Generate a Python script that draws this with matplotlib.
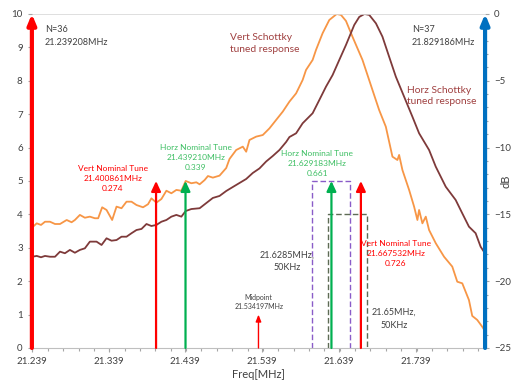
import matplotlib.pyplot as plt
from matplotlib.ticker import MultipleLocator

plt.rcParams['font.family'] = ['Lato', 'DejaVu Sans']

# ==========================
# Schottky responses (dB)
# ==========================
horz_freq = [21.2398, 21.2455, 21.2511, 21.2563, 21.2628, 21.2693, 21.2758, 21.2845,
             21.2909, 21.2952, 21.3017, 21.3082, 21.3147, 21.3212, 21.3255, 21.3307,
             21.3364, 21.3437, 21.3494, 21.3559, 21.3624, 21.3689, 21.3754, 21.3839,
             21.3904, 21.3948, 21.4013, 21.4078, 21.4143, 21.4208, 21.4273, 21.4338,
             21.4394, 21.4468, 21.4533, 21.4576, 21.4641, 21.4684, 21.4748, 21.4835,
             21.4922, 21.4965, 21.5052, 21.5138, 21.5182, 21.5225, 21.5312, 21.5398,
             21.5485, 21.5572, 21.5658, 21.5745, 21.5832, 21.5917, 21.5961, 21.6047,
             21.6091, 21.6177, 21.6264, 21.6361, 21.6416, 21.6481, 21.6567, 21.6696,
             21.6826, 21.6913, 21.7000, 21.7086, 21.7151, 21.7173, 21.7216, 21.7303,
             21.7368, 21.7411, 21.7433, 21.7476, 21.7520, 21.7563, 21.7650, 21.7758,
             21.7865, 21.7930, 21.7995, 21.8082, 21.8125, 21.8190, 21.8255, 21.8290]
horz_db = [-15.97, -15.67, -15.79, -15.55, -15.55, -15.72, -15.72, -15.42,
           -15.59, -15.42, -15.04, -15.25, -15.17, -15.29, -15.29, -14.47,
           -14.67, -15.42, -14.42, -14.54, -14.05, -14.05, -14.30, -14.47,
           -14.24, -13.80, -14.12, -13.85, -13.23, -13.42, -13.17, -13.23,
           -12.50, -12.67, -12.60, -12.75, -12.43, -12.13, -12.25, -12.10,
           -11.53, -10.85, -10.18, -9.93, -10.31, -9.43, -9.18, -9.06,
           -8.56, -7.93, -7.31, -6.56, -5.94, -4.94, -4.19, -3.44,
           -2.69, -1.44, -0.45, 0.0, -0.07, -0.52, -1.72, -3.44,
           -5.69, -7.19, -8.44, -10.68, -10.93, -10.55, -11.68, -13.17,
           -14.42, -15.42, -14.67, -15.67, -15.17, -16.17, -17.16, -18.17,
           -18.91, -20.04, -20.16, -21.41, -22.60, -22.90, -23.41, -23.73]

vert_freq = [21.2398, 21.2455, 21.2511, 21.2563, 21.2628, 21.2693, 21.2758, 21.2822,
             21.2887, 21.2952, 21.3017, 21.3082, 21.3147, 21.3234, 21.3299, 21.3364,
             21.3429, 21.3494, 21.3559, 21.3624, 21.3689, 21.3754, 21.3819, 21.3884,
             21.3948, 21.4013, 21.4078, 21.4143, 21.4208, 21.4273, 21.4338, 21.4394,
             21.4468, 21.4576, 21.4663, 21.4748, 21.4835, 21.4922, 21.5008, 21.5095,
             21.5182, 21.5268, 21.5355, 21.5442, 21.5528, 21.5615, 21.5702, 21.5745,
             21.5832, 21.5917, 21.6047, 21.6134, 21.6221, 21.6307, 21.6394, 21.6481,
             21.6589, 21.6654, 21.6722, 21.6784, 21.6871, 21.6956, 21.7043, 21.7130,
             21.7238, 21.7346, 21.7433, 21.7563, 21.7650, 21.7780, 21.7909, 21.7995,
             21.8082, 21.8169, 21.8234, 21.8290]
vert_db = [-18.17, -18.11, -18.21, -18.11, -18.17, -18.17, -17.79, -17.91,
           -17.66, -17.87, -17.66, -17.54, -17.04, -17.04, -17.29, -16.79,
           -16.97, -16.92, -16.67, -16.67, -16.41, -16.17, -16.09, -15.72,
           -15.87, -15.79, -15.55, -15.42, -15.17, -15.04, -15.17, -14.75,
           -14.60, -14.54, -14.15, -13.77, -13.62, -13.25, -12.95, -12.65,
           -12.35, -11.90, -11.56, -11.04, -10.63, -10.18, -9.58, -9.21,
           -8.93, -8.18, -7.43, -6.44, -5.44, -4.57, -3.44, -2.32,
           -0.82, -0.22, 0.0, -0.07, -0.70, -1.70, -3.20, -4.69,
           -6.19, -7.69, -8.93, -10.18, -11.43, -12.93, -13.92, -14.92,
           -15.92, -16.41, -17.42, -17.91]

# ==========================
# Marker arrows (left axis)
# ==========================
n36_freq, n37_freq = 21.239208, 21.829186
vert_tune_freq = [21.400861, 21.667532]
vert_tune_val = [0.274, 0.726]
horz_tune_freq = [21.439210, 21.629183]
horz_tune_val = [0.339, 0.661]
mid_freq = 21.534197
arrow_height = 5
box_centers = [21.6285, 21.65]
box_width = 0.05
box_heights = [5, 4]

xticks = [21.239, 21.339, 21.439, 21.539, 21.639, 21.739]

RED = '#FF0000'
GREEN = '#00B050'
GREEN_TXT = '#3DBF63'
BLUE = '#0070C0'
ORANGE = '#F79646'
MAROON = '#7E3A3A'
LABEL = '#A04040'
DARK = '#404040'

fig = plt.figure(figsize=(5.15, 3.84), dpi=100)
ax = fig.add_axes([0.0616, 0.0938, 0.880, 0.8698])
ax2 = ax.twinx()

# curves on the dB axis
ax2.plot(horz_freq, horz_db, color=ORANGE, lw=1.3)
ax2.plot(vert_freq, vert_db, color=MAROON, lw=1.3)
ax2.set_ylim(-25, 0)
ax2.yaxis.set_major_locator(MultipleLocator(5))
ax2.yaxis.set_minor_locator(MultipleLocator(1))
ax2.set_ylabel('dB', fontsize=8, color=DARK)
ax2.yaxis.set_label_coords(1.035, 0.5)

# arrows on top of the curves
ax.set_zorder(ax2.get_zorder() + 1)
ax.patch.set_visible(False)


def arrow(x, h, color, lw, hl, hw, ms=10):
    ax.annotate('', xy=(x, h), xytext=(x, 0),
                arrowprops=dict(arrowstyle='-|>,head_length=%g,head_width=%g' % (hl, hw),
                                color=color, lw=lw, shrinkA=0, shrinkB=0,
                                mutation_scale=ms))


arrow(n36_freq, 10, RED, 3, 0.6, 0.25)
arrow(n37_freq, 10, BLUE, 3, 0.6, 0.25)
for f in vert_tune_freq:
    arrow(f, arrow_height, RED, 1.6, 0.6, 0.28)
for f in horz_tune_freq:
    arrow(f, arrow_height, GREEN, 1.6, 0.6, 0.28)
arrow(mid_freq, 1, RED, 1.0, 0.5, 0.2, ms=8)

# 50 kHz boxes
for c, h, col in zip(box_centers, box_heights, ['#8A5CC8', '#5E6B55']):
    x0, x1 = c - box_width / 2, c + box_width / 2
    ax.plot([x0, x0, x1, x1], [0, h, h, 0], color=col, lw=1, ls=(0, (4, 2)))

ax.set_xlim(21.239, 21.829)
ax.set_ylim(0, 10)
ax.set_xticks(xticks)
ax.xaxis.set_minor_locator(MultipleLocator(0.02))
ax.yaxis.set_major_locator(MultipleLocator(1))
ax.set_xlabel('Freq[MHz]', fontsize=8, color=DARK, labelpad=2)

for a in (ax, ax2):
    for s in a.spines.values():
        s.set_visible(False)
    a.tick_params(colors='#a6a6a6', labelcolor=DARK, labelsize=7, length=3, width=0.8)
    a.tick_params(which='minor', colors='#a6a6a6', length=2, width=0.8)
ax.spines['bottom'].set_visible(True)
ax.spines['bottom'].set_color('#bfbfbf')
ax.axhline(10, color='#d9d9d9', lw=1.2, zorder=0)

# texts
ax.text(21.2563, 9.33, 'N=36\n21.239208MHz', fontsize=6.5, color=DARK,
        va='center', linespacing=1.6)
ax.text(21.7338, 9.33, 'N=37\n21.829186MHz', fontsize=6.5, color=DARK,
        va='center', linespacing=1.6)
ax.text(21.4965, 9.11, 'Vert Schottky\ntuned response', fontsize=7.4, color=LABEL,
        va='center', linespacing=1.35)
ax.text(21.7273, 7.54, 'Horz Schottky\ntuned response', fontsize=7.4, color=LABEL,
        va='center', linespacing=1.35)

for f, v, x, y in zip(vert_tune_freq, vert_tune_val, [21.3446, 21.7130], [5.08, 2.84]):
    ax.text(x, y, 'Vert Nominal Tune\n%.6fMHz\n%.3f' % (f, v), fontsize=6,
            color=RED, ha='center', va='center', linespacing=1.5)
for f, v, x, y in zip(horz_tune_freq, horz_tune_val, [21.4524, 21.6108], [5.70, 5.51]):
    ax.text(x, y, 'Horz Nominal Tune\n%.6fMHz\n%.3f' % (f, v), fontsize=6,
            color=GREEN_TXT, ha='center', va='center', linespacing=1.5)

ax.text(21.5719, 2.60, '21.6285MHz,\n50KHz', fontsize=6.5, color=DARK,
        ha='center', va='center', linespacing=1.5)
ax.text(21.7108, 0.87, '21.65MHz,\n50KHz', fontsize=6.5, color=DARK,
        ha='center', va='center', linespacing=1.5)
ax.text(21.5346, 1.38, 'Midpoint\n21.534197MHz', fontsize=5, color=DARK,
        ha='center', va='center', linespacing=1.4)

fig.savefig('out.png', dpi=100)
